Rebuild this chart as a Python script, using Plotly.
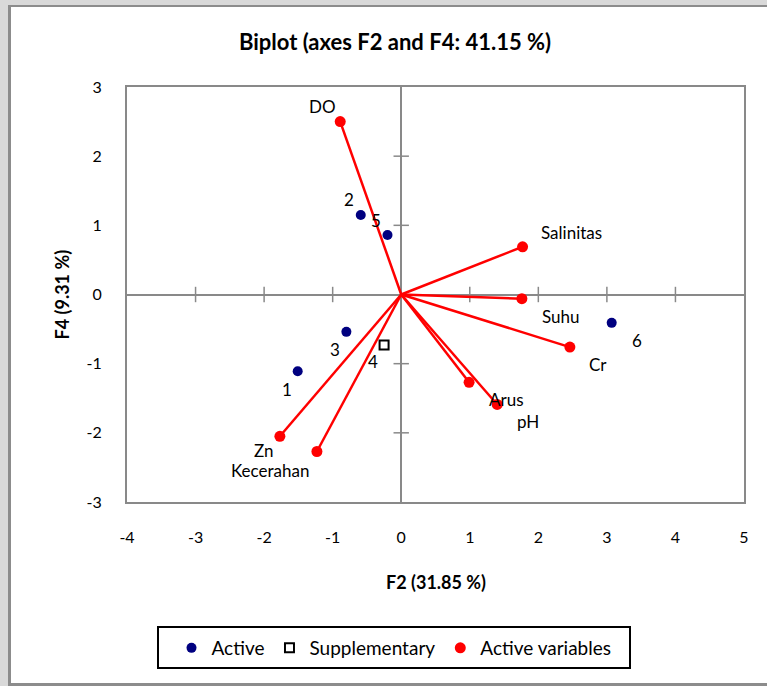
import plotly.graph_objects as go

# ---------------- data ----------------
obs_names = ["1", "2", "3", "5", "6"]
obs_f2 = [-1.51, -0.59, -0.80, -0.20, 3.07]
obs_f4 = [-1.11, 1.15, -0.54, 0.86, -0.41]

sup_names = ["4"]
sup_f2 = [-0.25]
sup_f4 = [-0.73]

var_names = ["DO", "Salinitas", "Suhu", "Cr", "Arus", "pH", "Zn", "Kecerahan"]
var_f2 = [-0.89, 1.77, 1.76, 2.46, 0.99, 1.40, -1.77, -1.23]
var_f4 = [2.50, 0.69, -0.06, -0.76, -1.27, -1.59, -2.05, -2.27]

x_ticks = [-4, -3, -2, -1, 0, 1, 2, 3, 4, 5]
y_ticks = [-3, -2, -1, 0, 1, 2, 3]

title_text = "Biplot (axes F2 and F4: 41.15 %)"
x_title = "F2 (31.85 %)"
y_title = "F4 (9.31 %)"

# ---------------- label offsets (px) ----------------
obs_off = {"1": (-11, -18), "2": (-12, 15), "3": (-11, -18), "5": (-12, 15), "6": (25, -18)}
sup_off = {"4": (-11, -17)}
var_off = {"DO": (-18, 15), "Salinitas": (49, 14), "Suhu": (39, -18), "Cr": (28, -17),
           "Arus": (37, -17), "pH": (31, -17), "Zn": (-16, -14), "Kecerahan": (-47, -19)}

FONT = "Lato"
GRAY = "#898989"
BG = "#d9d9d9"
BORDER = "#8c8c8c"

# plot area geometry in pixels
W, H = 767, 686
L, R, T, B = 127, 23, 87, 184
PW, PH = W - L - R, H - T - B


def px2paper_x(px):
    return (px - L) / PW


def px2paper_y(py):
    return (H - B - py) / PH


fig = go.Figure()

# tick marks on the zero axes (Excel style crossing ticks)
xt = [v for v in x_ticks if v not in (0, x_ticks[0], x_ticks[-1])]
yt = [v for v in y_ticks if v not in (0, y_ticks[0], y_ticks[-1])]
fig.add_trace(go.Scatter(x=xt, y=[0] * len(xt), mode="markers", showlegend=False, hoverinfo="skip",
                         marker=dict(symbol="line-ns", size=11, line=dict(color=GRAY, width=1.5))))
fig.add_trace(go.Scatter(x=[0] * len(yt), y=yt, mode="markers", showlegend=False, hoverinfo="skip",
                         marker=dict(symbol="line-ew", size=11, line=dict(color=GRAY, width=1.5))))

# variable vectors
lx, ly = [], []
for a, b in zip(var_f2, var_f4):
    lx += [0, a, None]
    ly += [0, b, None]
fig.add_trace(go.Scatter(x=lx, y=ly, mode="lines", showlegend=False, hoverinfo="skip",
                         line=dict(color="#ff0000", width=2.5)))

fig.add_trace(go.Scatter(x=obs_f2, y=obs_f4, mode="markers", name="Active",
                         marker=dict(color="#000080", size=10)))
fig.add_trace(go.Scatter(x=sup_f2, y=sup_f4, mode="markers", name="Supplementary",
                         marker=dict(symbol="square-open", color="black", size=9,
                                     line=dict(width=2, color="black"))))
fig.add_trace(go.Scatter(x=var_f2, y=var_f4, mode="markers", name="Active variables",
                         marker=dict(color="#ff0000", size=11)))

annotations = []
for names, xs, ys, off in [(obs_names, obs_f2, obs_f4, obs_off),
                           (sup_names, sup_f2, sup_f4, sup_off),
                           (var_names, var_f2, var_f4, var_off)]:
    for n, a, b in zip(names, xs, ys):
        dx, dy = off[n]
        annotations.append(dict(x=a, y=b, text=n, showarrow=False, xshift=dx, yshift=dy,
                                xanchor="center", yanchor="middle",
                                font=dict(family=FONT, size=17, color="black")))

annotations.append(dict(x=0.5, y=px2paper_y(582), xref="paper", yref="paper", text="<b>" + x_title + "</b>",
                        showarrow=False, xanchor="center", yanchor="middle",
                        font=dict(family=FONT, size=18, color="black")))
annotations.append(dict(x=px2paper_x(61), y=0.5, xref="paper", yref="paper", text="<b>" + y_title + "</b>",
                        showarrow=False, textangle=-90, xanchor="center", yanchor="middle",
                        font=dict(family=FONT, size=18, color="black")))

shapes = [
    # gray surround (left and top) and border of the chart area
    dict(type="rect", xref="paper", yref="paper", layer="below",
         x0=px2paper_x(0), x1=px2paper_x(8), y0=px2paper_y(H), y1=px2paper_y(0),
         line=dict(width=0), fillcolor=BG),
    dict(type="rect", xref="paper", yref="paper", layer="below",
         x0=px2paper_x(0), x1=px2paper_x(W), y0=px2paper_y(5), y1=px2paper_y(0),
         line=dict(width=0), fillcolor=BG),
    dict(type="rect", xref="paper", yref="paper", layer="below",
         x0=px2paper_x(8), x1=px2paper_x(11), y0=px2paper_y(H), y1=px2paper_y(5),
         line=dict(width=0), fillcolor=BORDER),
    dict(type="rect", xref="paper", yref="paper", layer="below",
         x0=px2paper_x(8), x1=px2paper_x(W), y0=px2paper_y(7), y1=px2paper_y(5),
         line=dict(width=0), fillcolor=BORDER),
    dict(type="rect", xref="paper", yref="paper", layer="below",
         x0=px2paper_x(8), x1=px2paper_x(W), y0=px2paper_y(H), y1=px2paper_y(683),
         line=dict(width=0), fillcolor=BORDER),
    # legend box
    dict(type="rect", xref="paper", yref="paper", layer="above",
         x0=px2paper_x(158), x1=px2paper_x(630), y0=px2paper_y(668), y1=px2paper_y(627),
         line=dict(color="black", width=2), fillcolor="rgba(0,0,0,0)"),
]

axis_common = dict(showgrid=False, zeroline=True, zerolinecolor=GRAY, zerolinewidth=2,
                   showline=True, linecolor=GRAY, linewidth=2, mirror=True, ticks="",
                   tickfont=dict(family=FONT, size=16, color="black"), fixedrange=True)

fig.update_layout(
    width=W, height=H,
    margin=dict(l=L, r=R, t=T, b=B, autoexpand=False),
    paper_bgcolor="white", plot_bgcolor="white",
    title=dict(text="<b>" + title_text + "</b>", x=395 / W, xref="container", xanchor="center",
               y=1 - 42 / H, yref="container", yanchor="middle",
               font=dict(family=FONT, size=22, color="black")),
    xaxis=dict(range=[x_ticks[0], x_ticks[-1]], tickvals=x_ticks, ticktext=[str(v) for v in x_ticks],
               ticklabelstandoff=20, **axis_common),
    yaxis=dict(range=[y_ticks[0], y_ticks[-1]], tickvals=y_ticks, ticktext=[str(v) for v in y_ticks],
               ticklabelstandoff=20, **axis_common),
    legend=dict(orientation="h", x=px2paper_x(394), xanchor="center", y=px2paper_y(648), yanchor="middle",
                bgcolor="rgba(0,0,0,0)", borderwidth=0, font=dict(family=FONT, size=19, color="black")),
    annotations=annotations,
    shapes=shapes,
    showlegend=True,
)

fig.write_html("out.html")
